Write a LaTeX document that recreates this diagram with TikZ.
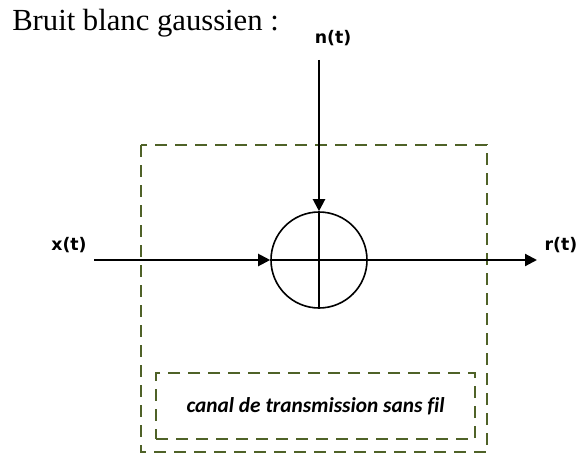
\documentclass[tikz,border=0pt]{standalone}
\usepackage{fontspec}
\setmainfont{Liberation Serif}
\newfontfamily\sigfont{DejaVu Sans}
\newfontfamily\canalfont[Ligatures=CommonOff]{Carlito}
\usetikzlibrary{arrows.meta,positioning}
\definecolor{canalgreen}{HTML}{4F6228}

\begin{document}
\begin{tikzpicture}[
    x=0.75pt, y=-0.75pt,
    sig/.style={font=\sigfont\bfseries\fontsize{13}{15}\selectfont, inner sep=0pt},
    sum/.style={circle, draw=black, line width=1.2pt, minimum size=72pt, inner sep=0pt},
    zone/.style={draw=canalgreen, line width=2pt, dash pattern=on 9pt off 6pt},
    flow/.style={->, >={Triangle[length=9pt,width=9pt]}, line width=1.6pt}
    ]
    \useasboundingbox (0,0) rectangle (577,456);

    \node[anchor=base west, inner sep=0pt, font=\fontsize{23}{26}\selectfont] (title) at (12,31) {Bruit blanc gaussien :};

    % outer channel frame
    \draw[zone] (141,145) rectangle (487,452);
    \node[zone, minimum width=239.25pt, minimum height=49.5pt,
          font=\canalfont\bfseries\itshape\fontsize{16}{18}\selectfont] (canal) at (315.5,406) {canal de transmission sans fil};

    % adder
    \node[sum] (sum) at (319,260) {};
    \draw[line width=1.2pt] (sum.north) -- (sum.south);
    \draw[line width=1.2pt] (sum.west) -- (sum.east);

    \node[sig] (n) at (333,38) {n(t)};
    \node[sig] (x) at (69,245) {x(t)};
    \node[sig] (r) at (561,245) {r(t)};

    \coordinate (nin) at (319,60);
    \coordinate (xin) at (94,260);
    \coordinate (rout) at (537,260);

    \draw[flow] (nin) -- (sum.north);
    \draw[flow] (xin) -- (sum.west);
    \draw[flow] (sum.east) -- (rout);
  \end{tikzpicture}
\end{document}
